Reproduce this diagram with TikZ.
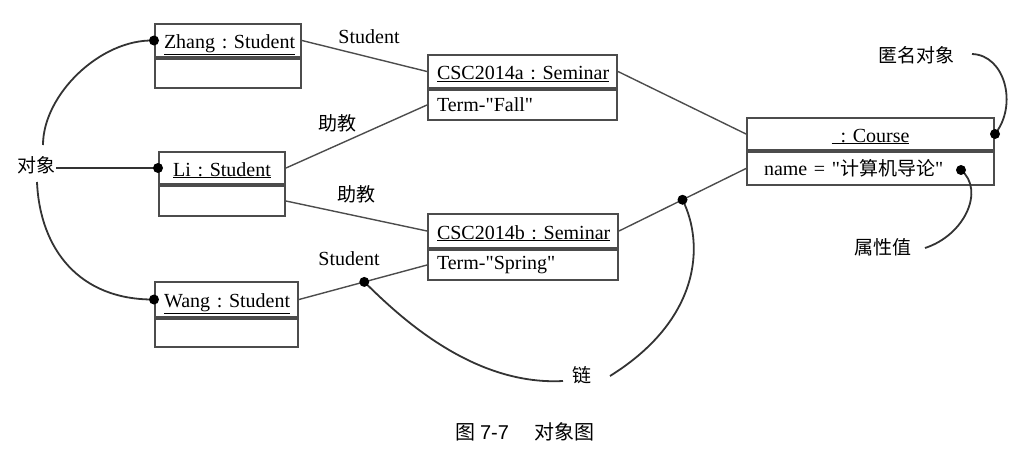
\documentclass[tikz,border=0pt]{standalone}
\usepackage{fontspec}
\setmainfont{Liberation Serif}[Ligatures=TeXOff]
\newfontfamily\cjk{Noto Sans CJK SC}
\newfontfamily\capsans{Liberation Sans}
\frenchspacing
\begin{document}
\begin{tikzpicture}[x=1pt,y=-1pt,
  font=\fontsize{20}{22}\selectfont,
  box/.style={draw=black!70, line width=2pt, inner xsep=9pt, inner ysep=0pt, anchor=north west, text height=16pt, text depth=0pt},
  bodybox/.style={draw=black!70, line width=2pt, inner xsep=9pt, inner ysep=0pt, anchor=north west},
  link/.style={draw=black!70, line width=1.4pt},
  call/.style={draw=black!80, line width=1.8pt},
  dot/.style={fill=black},
  lbl/.style={inner sep=1pt},
  zh/.style={font=\cjk\fontsize{19}{21}\selectfont, inner sep=1pt}]
\useasboundingbox (0,0) rectangle (1028,453);

% Zhang
\node[box, text width=128pt, align=center, minimum height=33pt] (zhang) at (154,23) {\underline{Zhang : Student}};
\node[bodybox, text width=128pt, minimum height=29pt] (zhangb) at (zhang.south west) {};
% Li
\node[box, text width=108pt, align=center, minimum height=32pt] (li) at (158,151) {\underline{Li : Student}};
\node[bodybox, text width=108pt, minimum height=30pt] (lib) at (li.south west) {};
% Wang
\node[box, text width=125pt, align=center, minimum height=35pt] (wang) at (154,281) {\underline{Wang : Student}};
\node[bodybox, text width=125pt, minimum height=28pt] (wangb) at (wang.south west) {};
% CSC2014a
\node[box, text width=171pt, align=left, minimum height=33pt] (csca) at (427,54) {\underline{CSC2014a : Seminar}};
\node[bodybox, text width=171pt, align=left, minimum height=30pt] (cscab) at (csca.south west) {Term-"Fall"};
% CSC2014b
\node[box, text width=172pt, align=left, minimum height=34pt] (cscb) at (427,213) {\underline{CSC2014b : Seminar}};
\node[bodybox, text width=172pt, align=left, minimum height=30pt] (cscbb) at (cscb.south west) {Term-"Spring"};
% Course
\node[box, text width=229pt, align=center, minimum height=32pt] (course) at (746,117) {\underline{\hspace{0.45em}: Course}};
\node[bodybox, text width=229pt, align=left, minimum height=33pt] (courseb) at (course.south west) {\hspace*{8pt}name = "{\cjk\fontsize{19}{21}\selectfont 计算机导论}"};

% links
\draw[link] (zhang.east) -- (csca.west);
\draw[link] (li.east) -- (cscab.west);
\draw[link] (lib.east) -- (cscb.west);
\draw[link] (wang.east) -- coordinate[pos=0.51] (sdot) (cscbb.west);
\draw[link] (csca.east) -- (course.west);
\draw[link] (cscb.east) -- coordinate[pos=0.5] (ldot) (courseb.west);

% link labels
\node[lbl] (l1) at (369,37) {Student};
\node[zh] (l2) at (337,123) {助教};
\node[zh] (l3) at (356,194) {助教};
\node[lbl] (l4) at (349,259) {Student};

% callout labels
\node[zh] (obj) at (36,165) {对象};
\node[zh] (anon) at (916,55) {匿名对象};
\node[zh] (attrl) at (883,247) {属性值};
\node[zh] (chain) at (582,375) {链};

\coordinate (attr) at (961,170);
\coordinate (o1) at (43,145);
\coordinate (o2) at (37,182);
\coordinate (a1) at (972,54);
\coordinate (p1) at (925,248);
\coordinate (c1) at (563,381);
\coordinate (c2) at (610,376);

% callouts
\draw[call] (o1) .. controls (43,95) and (100,39) .. (zhang.west);
\draw[call] (obj.east |- li.west) -- (li.west);
\draw[call] (o2) .. controls (40,250) and (80,300) .. (wang.west);
\draw[call] (a1) .. controls (1005,55) and (1018,105) .. (course.east);
\draw[call] (p1) .. controls (965,235) and (985,190) .. (attr);
\draw[call] (sdot) .. controls (395,312) and (470,386) .. (c1);
\draw[call] (c2) .. controls (700,320) and (705,245) .. (ldot);

% dots
\fill[dot] (zhang.west) circle (5pt);
\fill[dot] (li.west) circle (5pt);
\fill[dot] (wang.west) circle (5pt);
\fill[dot] (course.east) circle (5pt);
\fill[dot] (attr) circle (5pt);
\fill[dot] (sdot) circle (5pt);
\fill[dot] (ldot) circle (5pt);

% caption
\node[inner sep=0pt] (cap) at (525,432) {{\cjk\fontsize{20}{22}\selectfont 图} {\capsans\fontsize{20}{22}\selectfont 7-7}\hspace{1.3em}{\cjk\fontsize{20}{22}\selectfont 对象图}};
\end{tikzpicture}
\end{document}
